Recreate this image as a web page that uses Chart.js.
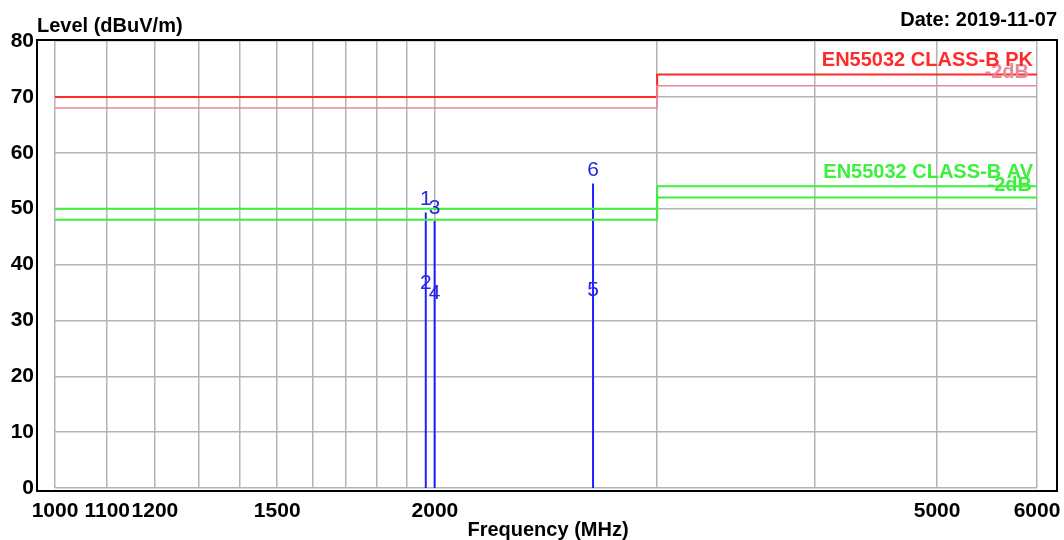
<!DOCTYPE html>
<html>
<head>
<meta charset="utf-8">
<script src="https://cdn.jsdelivr.net/npm/chart.js@4/dist/chart.umd.min.js"></script>
<style>
  body { margin: 0; background: #fff; }
</style>
</head>
<body>
<canvas id="myChart" width="1064" height="540"></canvas>
<script>
// frequency ticks (MHz) and which of them carry a label
const xTicks = [1000, 1100, 1200, 1300, 1400, 1500, 1600, 1700, 1800, 1900, 2000, 3000, 4000, 5000, 6000];
const xTickLabels = [1000, 1100, 1200, 1500, 2000, 5000, 6000];

// limit lines: break points and levels per segment
const limitEdges = [1000, 3000, 6000];
const pkLimit = [70, 74];
const pkLimitMargin = [68, 72];
const avLimit = [50, 54];
const avLimitMargin = [48, 52];

// measured peaks (vertical lines)
const peakFreqs = [1967, 1999, 2669];
const peakLevels = [49.3, 47.8, 54.5];

// marker numbers with their positions
const markerNums = ['1', '2', '3', '4', '5', '6'];
const markerFreqs = [1967, 1967, 1999, 1999, 2669, 2669];
const markerLevels = [49.3, 34.4, 47.8, 32.6, 33.1, 54.5];

const FONT = '"Liberation Sans", Arial, sans-serif';

function stepPoints(edges, levels) {
    const pts = [];
    for (let i = 0; i < levels.length; i++) {
        pts.push({ x: edges[i], y: levels[i] });
        pts.push({ x: edges[i + 1], y: levels[i] });
    }
    return pts;
}

function limitSet(edges, levels, color, width) {
    return {
        data: stepPoints(edges, levels),
        borderColor: color,
        borderWidth: width,
        pointRadius: 0,
        fill: false,
        tension: 0
    };
}

const datasets = [
    limitSet(limitEdges, pkLimitMargin, '#e8899a', 1.6),
    limitSet(limitEdges, pkLimit, '#ff2a2a', 2),
    limitSet(limitEdges, avLimitMargin, '#3cf03c', 2),
    limitSet(limitEdges, avLimit, '#3cf03c', 2)
];

peakFreqs.forEach(function (f, i) {
    datasets.push({
        data: [{ x: f, y: 0 }, { x: f, y: peakLevels[i] }],
        borderColor: '#1f1fff',
        borderWidth: 2,
        pointRadius: 0,
        fill: false
    });
});

const decorations = {
    id: 'decorations',
    afterDraw(chart) {
        const ctx = chart.ctx;
        const xs = chart.scales.x;
        const ys = chart.scales.y;
        ctx.save();

        // outer frame
        ctx.strokeStyle = '#000';
        ctx.lineWidth = 2;
        ctx.strokeRect(37, 40, 1057 - 37, 491 - 40);

        // marker numbers
        ctx.font = '21px ' + FONT;
        ctx.fillStyle = '#2626e6';
        ctx.textAlign = 'center';
        ctx.textBaseline = 'middle';
        markerNums.forEach(function (n, i) {
            ctx.fillText(n, xs.getPixelForValue(markerFreqs[i]), ys.getPixelForValue(markerLevels[i]) - 13);
        });

        // limit captions
        ctx.textAlign = 'right';
        ctx.font = 'bold 20px ' + FONT;
        ctx.fillStyle = '#e8899a';
        ctx.fillText('-2dB', 1029, 72);
        ctx.fillStyle = '#ff2a2a';
        ctx.fillText('EN55032 CLASS-B PK', 1033, 60);
        ctx.fillStyle = '#3cf03c';
        ctx.fillText('-2dB', 1032, 185);
        ctx.fillText('EN55032 CLASS-B AV', 1033, 172);

        // axis titles and date
        ctx.fillStyle = '#000';
        ctx.textAlign = 'left';
        ctx.fillText('Level (dBuV/m)', 37, 26);
        ctx.textAlign = 'right';
        ctx.fillText('Date: 2019-11-07', 1057, 20);
        ctx.textAlign = 'center';
        ctx.fillText('Frequency (MHz)', 548, 530);
        ctx.restore();
    }
};

const ctx = document.getElementById('myChart').getContext('2d');
const myChart = new Chart(ctx, {
    type: 'line',
    data: { datasets: datasets },
    options: {
        responsive: false,
        animation: false,
        devicePixelRatio: 1,
        layout: { padding: { top: 41, right: 27, bottom: 0, left: 0 } },
        plugins: {
            legend: { display: false },
            tooltip: { enabled: false }
        },
        scales: {
            x: {
                type: 'logarithmic',
                min: 1000,
                max: 6000,
                afterBuildTicks: function (scale) {
                    scale.ticks = xTicks.map(v => ({ value: v }));
                },
                afterFit: function (scale) {
                    scale.height = 52;
                    scale.paddingLeft = 0;
                    scale.paddingRight = 0;
                },
                border: { display: false },
                grid: { color: '#b4b4b4', lineWidth: 1.5, drawTicks: false },
                ticks: {
                    autoSkip: false,
                    maxRotation: 0,
                    padding: 11,
                    color: '#000',
                    font: { family: FONT, size: 21, weight: 'bold' },
                    callback: function (value) {
                        return xTickLabels.includes(value) ? String(value) : '';
                    }
                }
            },
            y: {
                min: 0,
                max: 80,
                afterFit: function (scale) { scale.width = 55; },
                border: { display: false },
                grid: { color: '#b4b4b4', lineWidth: 1.5, drawTicks: false },
                ticks: {
                    stepSize: 10,
                    padding: 21,
                    color: '#000',
                    font: { family: FONT, size: 21, weight: 'bold' }
                }
            }
        }
    },
    plugins: [decorations]
});
</script>
</body>
</html>
